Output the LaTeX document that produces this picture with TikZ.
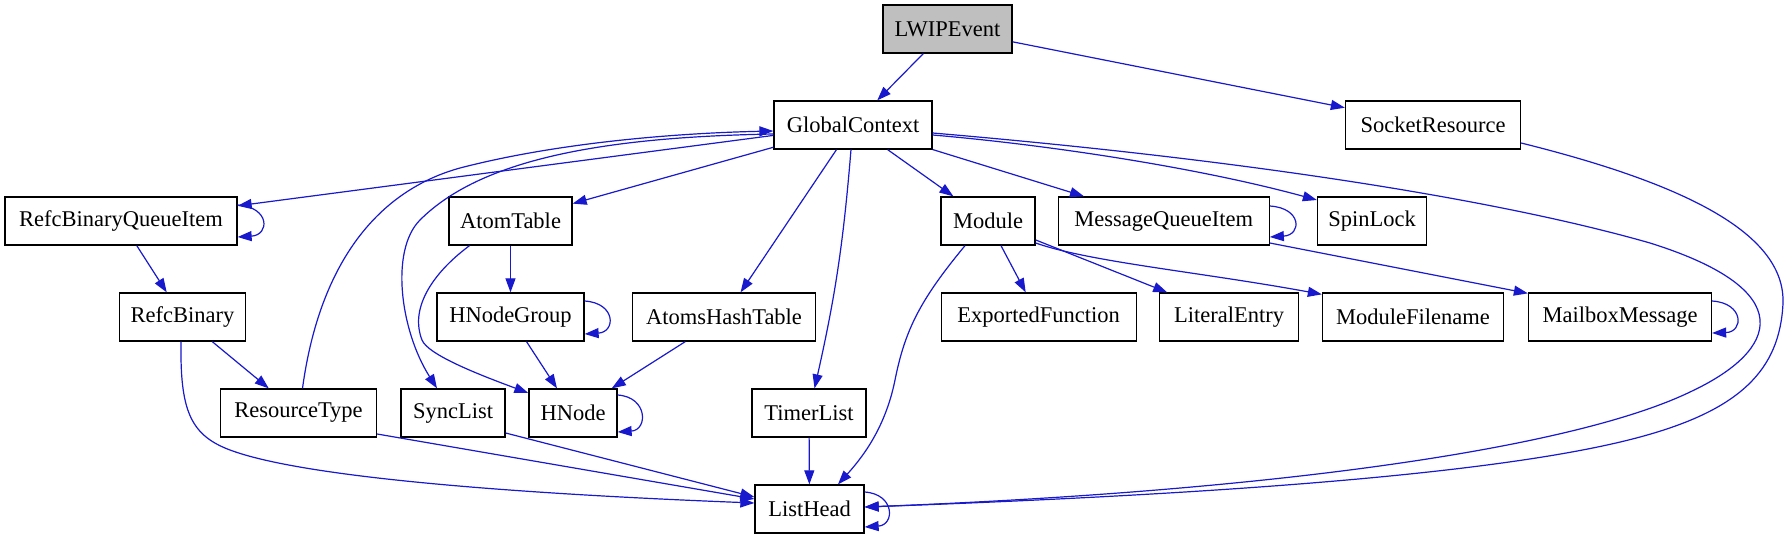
\documentclass[tikz,border=0pt]{standalone}
\usepackage{fontspec}
\setmainfont{Liberation Serif}
\usetikzlibrary{arrows.meta}
\definecolor{eb}{RGB}{24,24,205}
\definecolor{lwgray}{RGB}{191,191,191}
\begin{document}
\begin{tikzpicture}[x=1pt,y=-1pt,
 box/.style={draw=black, line width=1.3pt, minimum height=48pt, inner sep=0pt, fill=white, font=\fontsize{22.5}{25}\selectfont},
 conn/.style={draw=eb, line width=1.2pt, -{Triangle[length=14pt,width=10pt]}}]
\fill[white] (0,0) rectangle (1788,539);
\useasboundingbox (0,0) rectangle (1788,539);
% nodes
\node[box,minimum width=129pt,fill=lwgray] (LW) at (947.5,29) {LWIPEvent};
\node[box,minimum width=158pt] (GC) at (853,125) {GlobalContext};
\node[box,minimum width=175pt] (SR) at (1433,125) {SocketResource};
\node[box,minimum width=232pt] (RBQ) at (121,221) {RefcBinaryQueueItem};
\node[box,minimum width=123pt] (AT) at (510.5,221) {AtomTable};
\node[box,minimum width=94pt] (MOD) at (988,221) {Module};
\node[box,minimum width=211pt] (MQI) at (1163.7,221) {MessageQueueItem};
\node[box,minimum width=109pt] (SPL) at (1372,221) {SpinLock};
\node[box,minimum width=126pt] (RB) at (182.5,317) {RefcBinary};
\node[box,minimum width=147pt] (HNG) at (510.5,317) {HNodeGroup};
\node[box,minimum width=183pt] (AHT) at (724,317) {AtomsHashTable};
\node[box,minimum width=195pt] (EF) at (1038.7,317) {ExportedFunction};
\node[box,minimum width=139pt] (LE) at (1229,317) {LiteralEntry};
\node[box,minimum width=181pt] (MF) at (1413,317) {ModuleFilename};
\node[box,minimum width=183pt] (MM) at (1620,317) {MailboxMessage};
\node[box,minimum width=156pt] (RT) at (298.5,413) {ResourceType};
\node[box,minimum width=104pt] (SL) at (453,413) {SyncList};
\node[box,minimum width=88pt] (HN) at (573,413) {HNode};
\node[box,minimum width=114pt] (TL) at (809,413) {TimerList};
\node[box,minimum width=109pt] (LH) at (809.5,509) {ListHead};
% edges
\draw[conn] (LW) -- (GC);
\draw[conn] (LW) -- (SR);
\draw[conn] (GC) -- (RBQ);
\draw[conn] (GC) -- (AT);
\draw[conn] (GC) -- (AHT);
\draw[conn] (GC) to[bend left=4] (TL);
\draw[conn] (GC) -- (MOD);
\draw[conn] (GC) -- (MQI);
\draw[conn] ([yshift=-10]GC.east) .. controls (1050,145) and (1200,168) .. ([yshift=21]SPL.west);
\draw[conn] ([yshift=-8]GC.east) .. controls (1250,160) and (1500,200) .. (1650,243) .. controls (1800,290) and (1780,350) .. (1690,392) .. controls (1580,445) and (1300,490) .. ([yshift=2]LH.east);
\draw[conn] ([yshift=-18]SR.east) .. controls (1690,185) and (1785,235) .. (1783,303) .. controls (1780,370) and (1740,410) .. (1640,437) .. controls (1500,475) and (1200,495) .. ([yshift=2]LH.east);
\draw[conn] ([xshift=4]RT.north) .. controls (320,260) and (380,190) .. (460,168) .. controls (560,142) and (680,133) .. ([yshift=-6]GC.west);
\draw[conn] ([yshift=-9]GC.west) .. controls (600,137) and (480,160) .. (420,220) .. controls (390,250) and (400,330) .. ([xshift=-16]SL.north);
\draw[conn] ([yshift=16]RBQ.east) .. controls (270,207) and (270,235) .. ([yshift=-16]RBQ.east);
\draw[conn] (RBQ) -- (RB);
\draw[conn] (RB) -- (RT);
\draw[conn] ([xshift=-1.5]RB.south) .. controls (180,410) and (190,435) .. (230,450) .. controls (310,480) and (550,495) .. ([yshift=6]LH.west);
\draw[conn] ([yshift=-21]RT.east) -- ([yshift=10]LH.west);
\draw[conn] ([yshift=-20]SL.east) -- ([yshift=12]LH.west);
\draw[conn] (TL) -- (LH);
\draw[conn] ([xshift=-23]MOD.south) .. controls (920,300) and (905,330) .. (895,380) .. controls (885,430) and (860,460) .. ([xshift=28.5]LH.north);
\draw[conn] (MOD) -- (EF);
\draw[conn] (MOD) -- (LE);
\draw[conn] ([yshift=-22]MOD.east) .. controls (1090,262) and (1200,272) .. ([yshift=-2]MF.north west);
\draw[conn] ([yshift=15]MQI.east) .. controls (1302,208) and (1302,235) .. ([yshift=-16]MQI.east);
\draw[conn] ([yshift=-22]MQI.east) -- ([yshift=-1]MM.north west);
\draw[conn] ([yshift=16]MM.east) .. controls (1744,303) and (1744,332) .. ([yshift=-16]MM.east);
\draw[conn] (AT) -- (HNG);
\draw[conn] ([yshift=16]HNG.east) .. controls (616,303) and (616,332) .. ([yshift=-17]HNG.east);
\draw[conn] ([xshift=-41]AT.south) .. controls (430,275) and (410,310) .. (422,340) .. controls (428,355) and (480,375) .. ([yshift=20]HN.west);
\draw[conn] (HNG) -- (HN);
\draw[conn] (AHT) -- (HN);
\draw[conn] ([yshift=18]HN.east) .. controls (648,397) and (648,430) .. ([yshift=-19]HN.east);
\draw[conn] ([yshift=17]LH.east) .. controls (895,494) and (895,525) .. ([yshift=-18]LH.east);
\end{tikzpicture}
\end{document}
